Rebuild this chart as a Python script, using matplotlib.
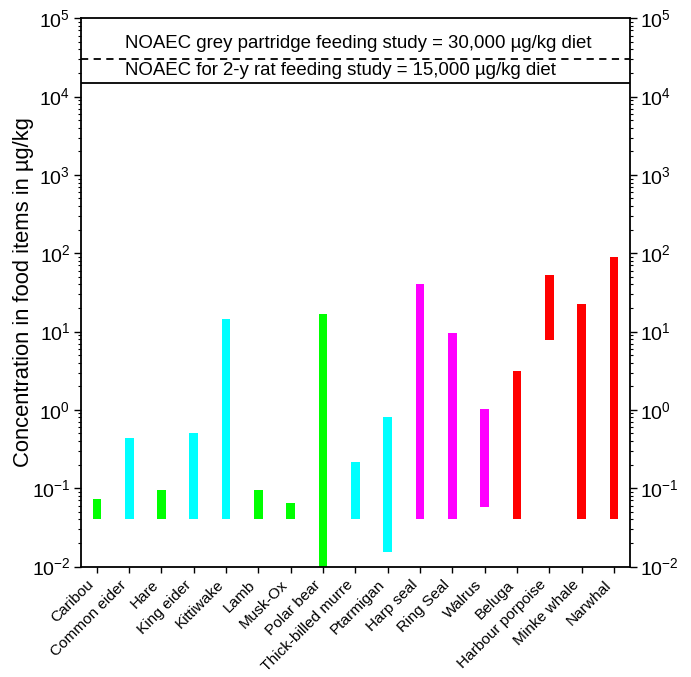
import matplotlib
matplotlib.use("Agg")
import matplotlib.pyplot as plt
from matplotlib.ticker import LogLocator, NullFormatter

plt.rcParams['font.family'] = ['Liberation Sans', 'DejaVu Sans']
plt.rcParams['mathtext.fontset'] = 'custom'
plt.rcParams['mathtext.rm'] = 'Liberation Sans'
plt.rcParams['mathtext.it'] = 'Liberation Sans'
plt.rcParams['mathtext.default'] = 'regular'

categories = ["Caribou", "Common eider", "Hare", "King eider", "Kittiwake", "Lamb",
              "Musk-Ox", "Polar bear", "Thick-billed murre", "Ptarmigan", "Harp seal",
              "Ring Seal", "Walrus", "Beluga", "Harbour porpoise", "Minke whale", "Narwhal"]
low = [0.04, 0.04, 0.04, 0.04, 0.04, 0.04, 0.04, 0.005, 0.04, 0.0151, 0.04,
       0.04, 0.0567, 0.04, 7.9, 0.04, 0.04]
high = [0.072, 0.443, 0.094, 0.514, 14.3, 0.094, 0.065, 17.0, 0.213, 0.81, 40.0,
        9.7, 1.02, 3.1, 53.0, 22.6, 90.0]
groups = ["land", "bird", "land", "bird", "bird", "land", "land", "land", "bird",
          "bird", "seal", "seal", "seal", "whale", "whale", "whale", "whale"]
group_colors = {"land": "#00FF00", "bird": "#00FFFF", "seal": "#FF00FF", "whale": "#FF0000"}

noaec_partridge = 30000
noaec_rat = 15000

fig = plt.figure(figsize=(6.91, 6.77), dpi=100)
ax = fig.add_axes([0.1168, 0.1632, 0.7950, 0.8098])

x = list(range(len(categories)))
colors = [group_colors[g] for g in groups]
heights = [h - l for h, l in zip(high, low)]
ax.bar(x, heights, bottom=low, width=0.27, color=colors, zorder=2)

ax.axhline(noaec_partridge, color='black', linestyle=(0, (4, 3)), linewidth=1.3)
ax.axhline(noaec_rat, color='black', linewidth=1.3)
ax.text(0.88, 47000, "NOAEC grey partridge feeding study = 30,000 \u00b5g/kg diet",
        fontsize=13.4, va='center', ha='left')
ax.text(0.88, 21500, "NOAEC for 2-y rat feeding study = 15,000 \u00b5g/kg diet",
        fontsize=13.4, va='center', ha='left')

ax.set_yscale('log')
ax.set_ylim(1e-2, 1e5)
ax.set_xlim(-0.5, len(categories) - 0.5)
ax.yaxis.set_major_locator(LogLocator(base=10, numticks=10))
ax.yaxis.set_minor_locator(LogLocator(base=10, subs=range(2, 10), numticks=100))
ax.yaxis.set_minor_formatter(NullFormatter())

ax.set_xticks(x)
ax.set_xticklabels(categories, rotation=45, ha='right', va='top', fontsize=11.1)
ax.tick_params(axis='x', direction='out', length=4.5, width=1, pad=3.5)
ax.tick_params(axis='y', which='major', direction='out', length=5, width=1, pad=2.5,
               left=True, right=True, labelleft=True, labelright=True, labelsize=14)
ax.tick_params(axis='y', which='minor', direction='out', length=2.5, width=0.8,
               left=True, right=True)
for s in ax.spines.values():
    s.set_linewidth(1.3)

ax.set_ylabel("Concentration in food items in \u00b5g/kg", fontsize=15.8, labelpad=-2)

fig.savefig("out.png", dpi=100)
